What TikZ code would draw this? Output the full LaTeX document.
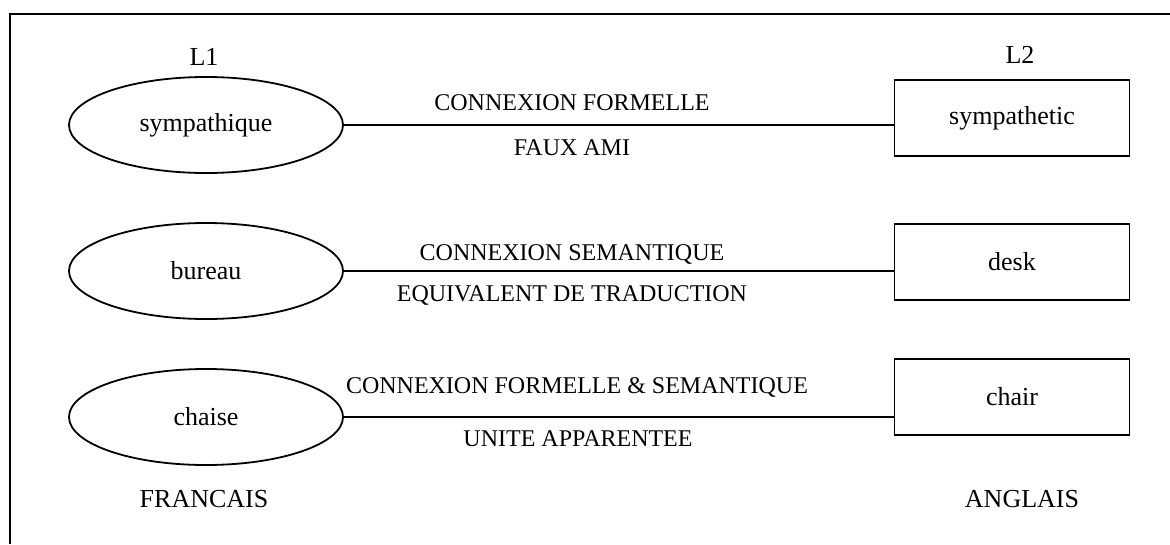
\documentclass[tikz,border=0pt]{standalone}
\usepackage{fontspec}
\setmainfont{Liberation Serif}
\usetikzlibrary{shapes.geometric}
\begin{document}
\begin{tikzpicture}[x=1pt,y=-1pt,
    fr/.style={ellipse, draw, line width=1.8pt, minimum width=274pt, minimum height=96pt, inner sep=0pt, font=\fontsize{26}{30}\selectfont},
    en/.style={rectangle, draw, line width=1.8pt, minimum width=235pt, minimum height=76pt, inner sep=0pt, font=\fontsize{26}{30}\selectfont},
    lbl/.style={anchor=base, inner sep=0pt, font=\fontsize{24}{28}\selectfont},
    titre/.style={anchor=base, inner sep=0pt, font=\fontsize{26}{30}\selectfont}]
    \useasboundingbox (0,0) rectangle (1170,544);
    \draw[line width=2pt] (1170,14) -- (10,14) -- (10,544);

    \node[titre] (l1) at (204,65) {L1};
    \node[titre] (l2) at (1020,63) {L2};

    \node[fr] (fr1) at (206,125) {sympathique};
    \node[fr] (fr2) at (206,271) {bureau};
    \node[fr] (fr3) at (206,417) {chaise};

    \node[en] (en1) at (1012,118) {sympathetic};
    \node[en] (en2) at (1012,262) {desk};
    \node[en] (en3) at (1012,397) {chair};

    \draw[line width=1.8pt] (fr1.east) -- (fr1.east -| en1.west);
    \draw[line width=1.8pt] (fr2.east) -- (fr2.east -| en2.west);
    \draw[line width=1.8pt] (fr3.east) -- (fr3.east -| en3.west);

    \node[lbl] (c1) at (572,110) {CONNEXION FORMELLE};
    \node[lbl] (t1) at (572,155) {FAUX AMI};
    \node[lbl] (c2) at (572,260) {CONNEXION SEMANTIQUE};
    \node[lbl] (t2) at (572,301) {EQUIVALENT DE TRADUCTION};
    \node[lbl] (c3) at (577,393) {CONNEXION FORMELLE \& SEMANTIQUE};
    \node[lbl] (t3) at (578,446) {UNITE APPARENTEE};

    \node[titre] (fr) at (204,507) {FRANCAIS};
    \node[titre] (en) at (1022,507) {ANGLAIS};
  \end{tikzpicture}
\end{document}
